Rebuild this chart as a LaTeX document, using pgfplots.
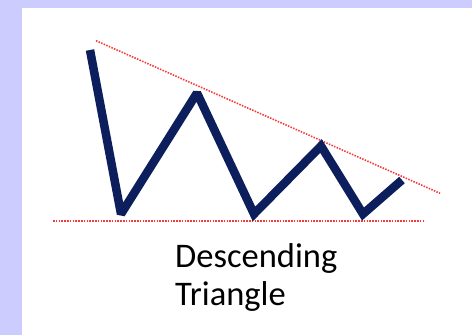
\documentclass[border=0pt]{standalone}
\usepackage{pgfplots}
\pgfplotsset{compat=1.18}
\usepackage{fontspec}
\setmainfont{Carlito}
\definecolor{lav}{RGB}{204,204,255}
\definecolor{navy}{RGB}{12,30,92}
\definecolor{dotred}{RGB}{245,60,60}
\begin{document}
\begin{tikzpicture}
\begin{axis}[
  width=472bp, height=335bp, scale only axis,
  axis lines=none, ticks=none,
  xmin=0, xmax=472, ymin=0, ymax=335, y dir=reverse,
  clip=false,
]
\fill[lav] (axis cs:0,0) rectangle (axis cs:472,335);
\fill[white] (axis cs:22,8) rectangle (axis cs:472,335);
% support and resistance (red dotted)
\addplot[dotred, line width=1.6bp, dash pattern=on 1.5bp off 1.3bp] coordinates {(96,40.7) (440,193.3)};
\addplot[dotred, line width=1.6bp, dash pattern=on 1.5bp off 1.3bp] coordinates {(53,220.7) (425,220.7)};
% price path
\addplot[navy, line width=8.5bp, line join=miter, miter limit=2, line cap=butt] coordinates {
(90,50) (121,214) (197,93) (254,214) (321,146) (363,214) (402,180)
};
\node[anchor=base west, font=\fontsize{34.5bp}{40bp}\selectfont, inner sep=0pt] at (axis cs:175,267) {Descending};
\node[anchor=base west, font=\fontsize{34.5bp}{40bp}\selectfont, inner sep=0pt] at (axis cs:175,305) {Triangle};
\end{axis}
\end{tikzpicture}
\end{document}
